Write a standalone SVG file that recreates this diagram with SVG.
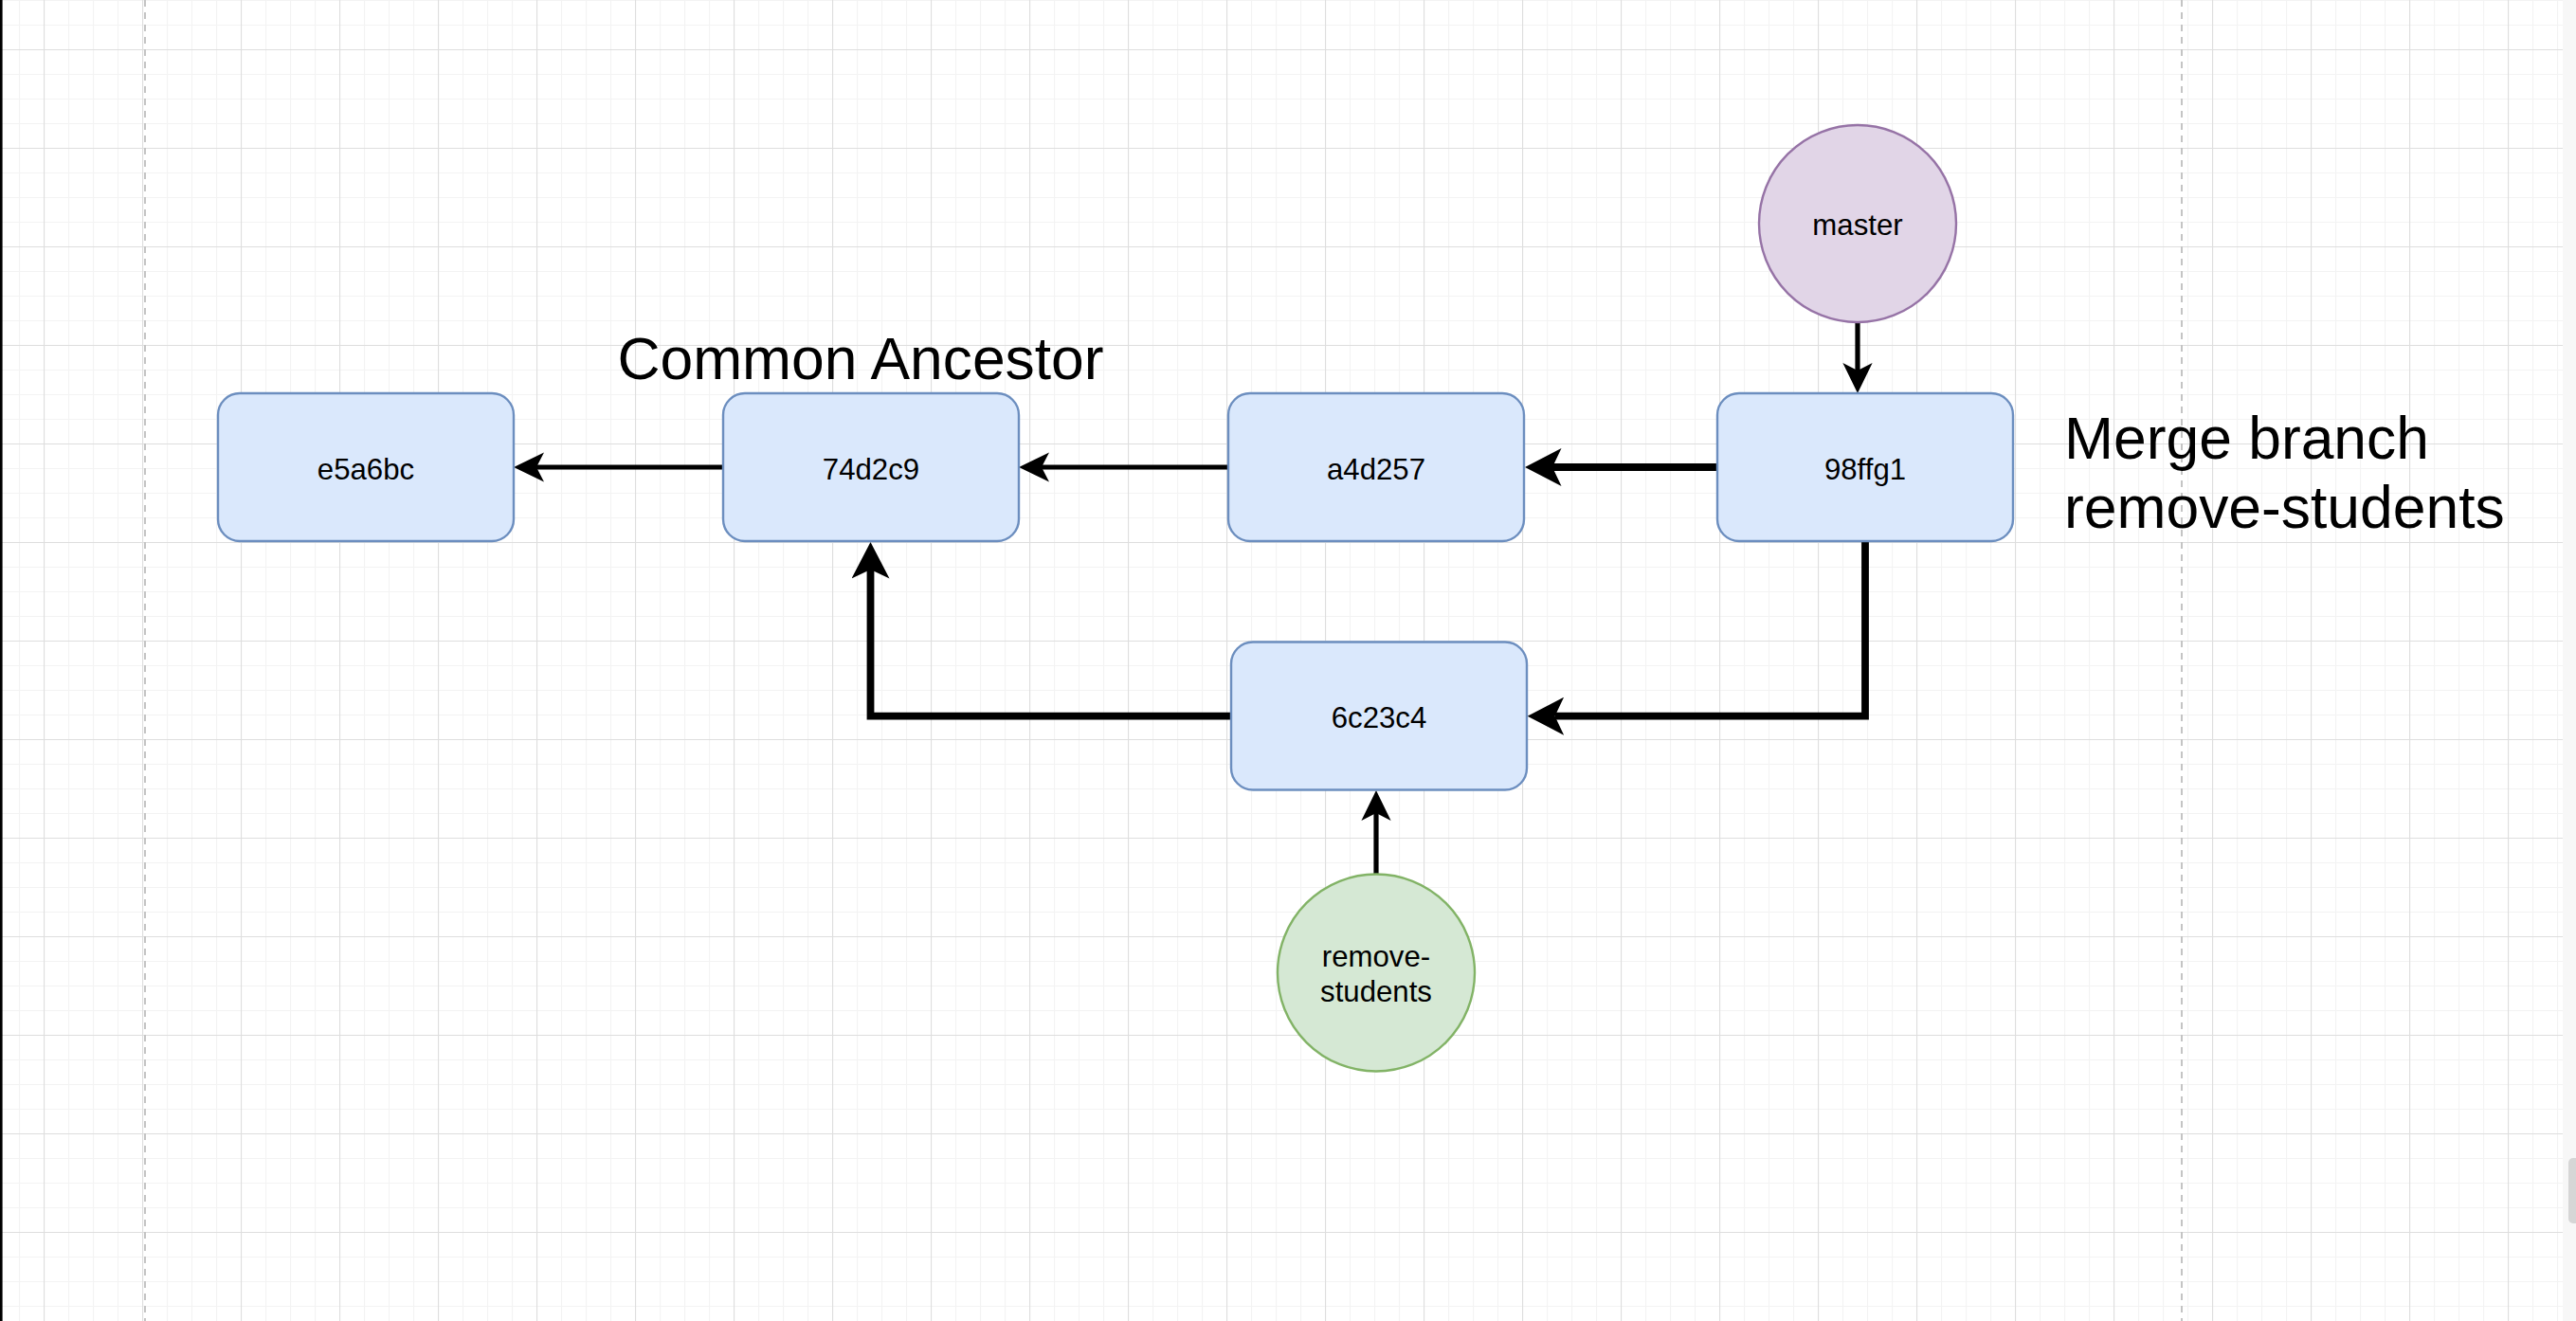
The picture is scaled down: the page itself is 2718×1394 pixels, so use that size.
<svg xmlns="http://www.w3.org/2000/svg" width="2718" height="1394" viewBox="0 0 2718 1394">
<style>
.box{fill:#dae8fc;stroke:#6c8ebf;stroke-width:2.4}
.lbl{font-family:"Liberation Sans",Arial,sans-serif;font-size:31.2px;fill:#000;text-anchor:middle}
.big{font-family:"Liberation Sans",Arial,sans-serif;font-size:62.4px;fill:#000}
.thin{fill:none;stroke:#000;stroke-width:5.2;marker-end:url(#aThin)}
.thick{fill:none;stroke:#000;stroke-width:7.8;stroke-linejoin:miter;marker-end:url(#aThick)}
.page{stroke:#c4c4c4;stroke-width:2;stroke-dasharray:7 6}
</style>
<defs>
<pattern id="gMinor" patternUnits="userSpaceOnUse" x="20" y="0" width="26" height="26">
<path d="M0.5,0 V26 M0,0.5 H26" stroke="#f3f3f3" stroke-width="1.2" fill="none"/>
</pattern>
<pattern id="gMajor" patternUnits="userSpaceOnUse" x="46" y="52" width="104" height="104">
<path d="M0.5,0 V104 M0,0.5 H104" stroke="#dedede" stroke-width="1.2" fill="none"/>
</pattern>
<marker id="aThin" markerUnits="userSpaceOnUse" viewBox="0 0 32 32" markerWidth="32" markerHeight="32" refX="8" refY="16" orient="auto">
<path d="M32,16 L0,0.4 L8,16 L0,31.6 Z" fill="#000"/>
</marker>
<marker id="aThick" markerUnits="userSpaceOnUse" viewBox="0 0 39 40" markerWidth="39" markerHeight="40" refX="9.5" refY="20" orient="auto">
<path d="M38.5,20 L0,0 L9.5,20 L0,40 Z" fill="#000"/>
</marker>
</defs>
<g id="background">
<rect x="0" y="0" width="2718" height="1394" fill="#ffffff"/>
<rect x="0" y="0" width="2704" height="1394" fill="url(#gMinor)"/>
<rect x="0" y="0" width="2704" height="1394" fill="url(#gMajor)"/>
<line class="page" x1="153" y1="0" x2="153" y2="1394"/>
<line class="page" x1="2302" y1="0" x2="2302" y2="1394"/>
<rect x="0" y="0" width="2.6" height="1394" fill="#000"/>
<rect x="2704" y="0" width="14" height="1394" fill="#f7f7f7"/>
<rect x="2710" y="1222" width="12" height="69" rx="5" fill="#d6d6d6"/>
</g>
<g id="connectors">
<path class="thin" d="M763,493 H566"/>
<path class="thin" d="M1296,493 H1099"/>
<path class="thick" d="M1812,493 H1638"/>
<path class="thin" d="M1960,340 V391"/>
<path class="thick" d="M1968,571 V755.7 H1640.6"/>
<path class="thick" d="M1299,755.7 H918.5 V601"/>
<path class="thin" d="M1452,922 V858"/>
</g>
<g id="node-e5a6bc">
<rect class="box" x="230" y="415" width="312" height="156" rx="23" ry="23"/>
<text class="lbl" x="386" y="505.5">e5a6bc</text>
</g>
<g id="node-74d2c9">
<rect class="box" x="763" y="415" width="312" height="156" rx="23" ry="23"/>
<text class="lbl" x="919" y="505.5">74d2c9</text>
</g>
<g id="node-a4d257">
<rect class="box" x="1296" y="415" width="312" height="156" rx="23" ry="23"/>
<text class="lbl" x="1452" y="505.5">a4d257</text>
</g>
<g id="node-98ffg1">
<rect class="box" x="1812" y="415" width="312" height="156" rx="23" ry="23"/>
<text class="lbl" x="1968" y="505.5">98ffg1</text>
</g>
<g id="node-6c23c4">
<rect class="box" x="1299" y="677.5" width="312" height="156" rx="23" ry="23"/>
<text class="lbl" x="1455" y="768">6c23c4</text>
</g>
<g id="node-master">
<circle cx="1960" cy="236" r="104" fill="#e1d5e7" stroke="#9673a6" stroke-width="2.4"/>
<text class="lbl" x="1960" y="248">master</text>
</g>
<g id="node-remove-students">
<circle cx="1452" cy="1026.5" r="104" fill="#d5e8d4" stroke="#82b366" stroke-width="2.4"/>
<text class="lbl" x="1452" y="1020">remove-</text>
<text class="lbl" x="1452" y="1056.5">students</text>
</g>
<g id="label-common-ancestor">
<text class="big" x="908" y="400" text-anchor="middle">Common Ancestor</text>
</g>
<g id="label-merge">
<text class="big" x="2178" y="484">Merge branch</text>
<text class="big" x="2178" y="557">remove-students</text>
</g>
</svg>
